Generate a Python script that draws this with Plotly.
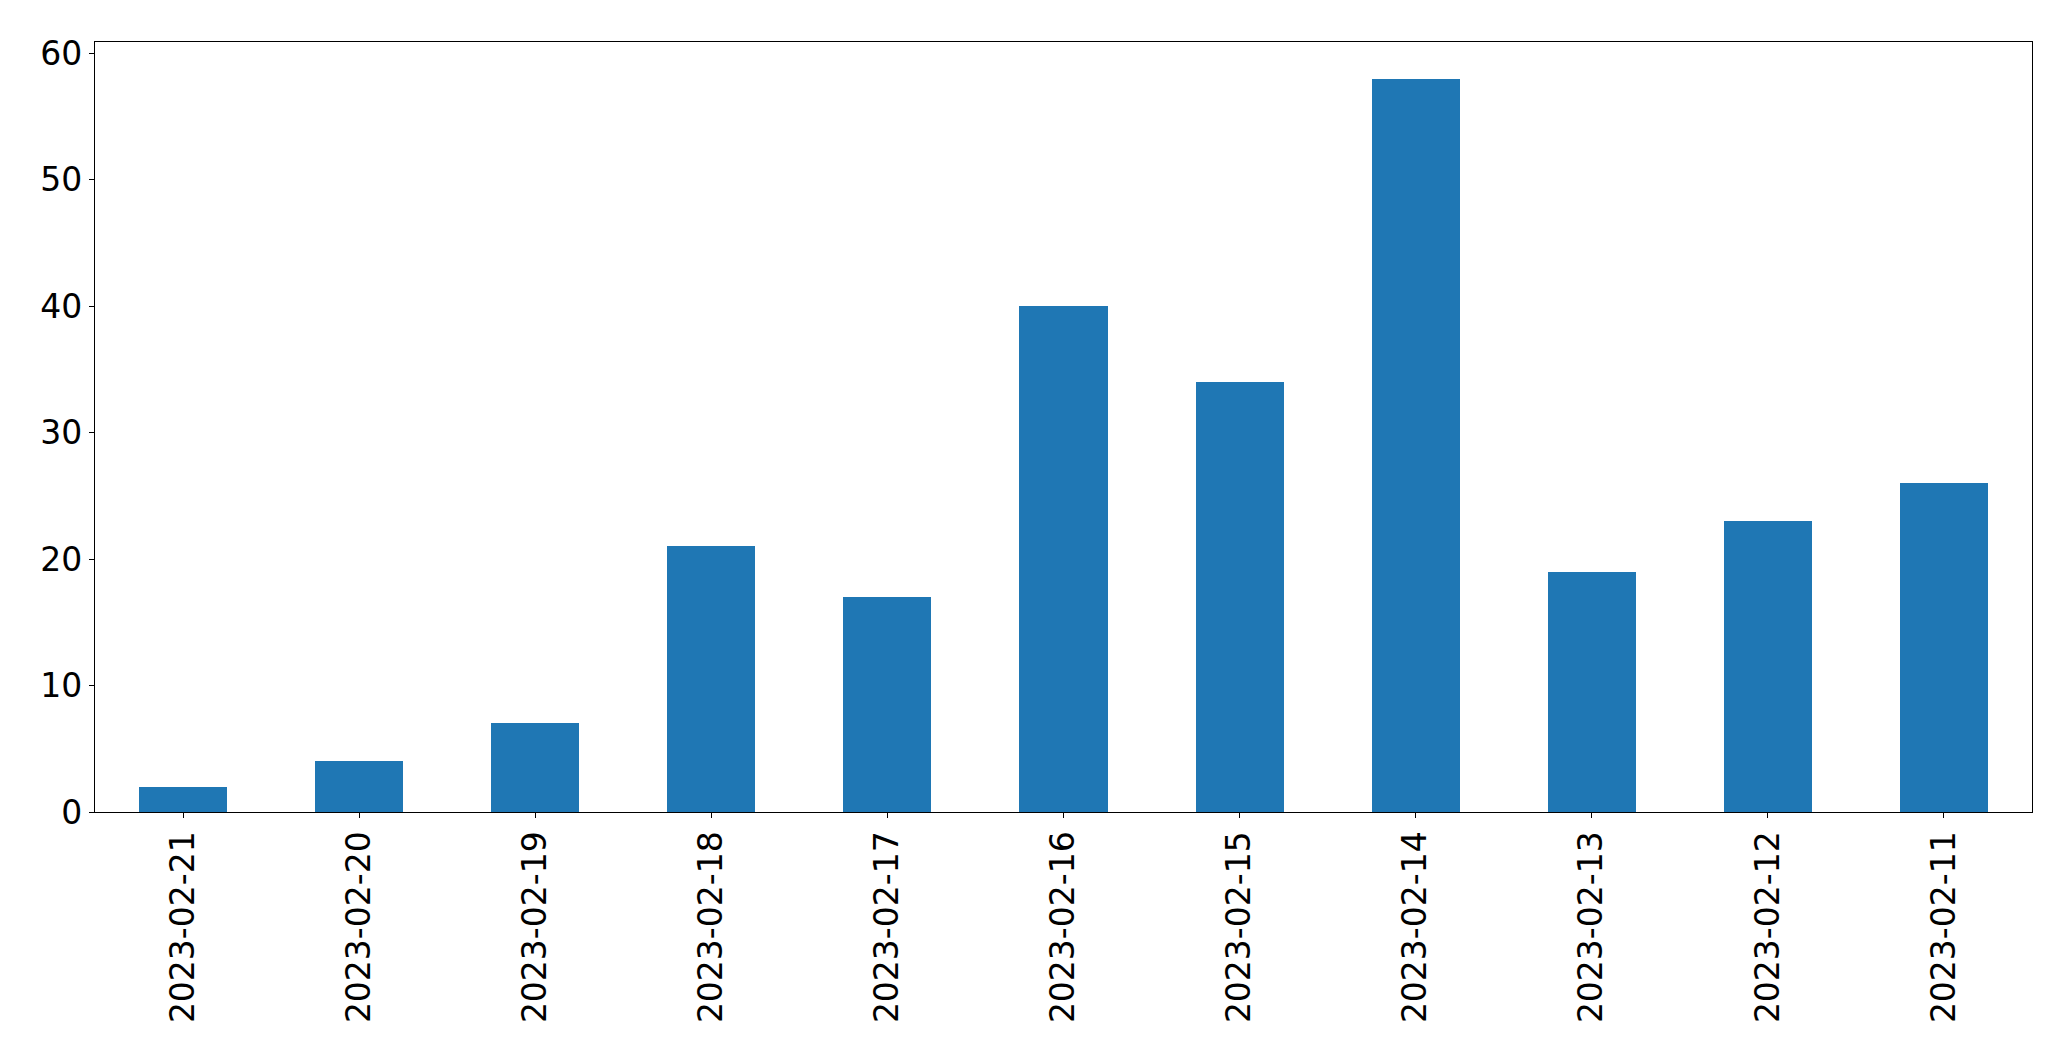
import plotly.graph_objects as go

dates = ["2023-02-21", "2023-02-20", "2023-02-19", "2023-02-18", "2023-02-17", "2023-02-16",
         "2023-02-15", "2023-02-14", "2023-02-13", "2023-02-12", "2023-02-11"]
counts = [2, 4, 7, 21, 17, 40, 34, 58, 19, 23, 26]
y_ticks = [0, 10, 20, 30, 40, 50, 60]

fig = go.Figure(go.Bar(x=dates, y=counts, width=0.5, marker=dict(color="#1f77b4", line=dict(width=0))))

fig.update_layout(
    width=2055, height=1048,
    margin=dict(l=87, r=31, t=34, b=244),
    plot_bgcolor="white", paper_bgcolor="white",
    font=dict(family="DejaVu Sans", size=33, color="black"),
    showlegend=False,
    bargap=0,
)
fig.update_xaxes(
    type="category", range=[-0.5, len(dates) - 0.5],
    showline=True, mirror=True, linecolor="black", linewidth=1.3,
    ticks="outside", ticklen=5, tickwidth=1.3, tickcolor="black",
    tickangle=-90, showgrid=False, zeroline=False,
    tickfont=dict(size=33, family="DejaVu Sans"),
)
fig.update_yaxes(
    range=[0, 60.9], tickvals=y_ticks,
    showline=True, mirror=True, linecolor="black", linewidth=1.3,
    ticks="outside", ticklen=5, tickwidth=1.3, tickcolor="black",
    showgrid=False, zeroline=False,
    tickfont=dict(size=33, family="DejaVu Sans"),
)

fig.write_html("out.html")
